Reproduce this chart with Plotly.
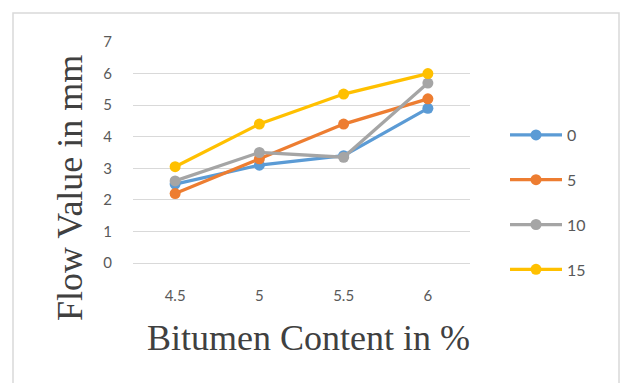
import plotly.graph_objects as go

categories = ["4.5", "5", "5.5", "6"]
series_names = ["0", "5", "10", "15"]
values_0 = [2.5, 3.1, 3.4, 4.9]
values_5 = [2.2, 3.3, 4.4, 5.2]
values_10 = [2.6, 3.5, 3.35, 5.7]
values_15 = [3.05, 4.4, 5.35, 6.0]
y_ticks = [0, 1, 2, 3, 4, 5, 6, 7]

colors = ["#5B9BD5", "#ED7D31", "#A5A5A5", "#FFC000"]
all_values = [values_0, values_5, values_10, values_15]

W, H = 621, 383
L, R, T, B = 133, 151, 42, 120
pw, ph = W - L - R, H - T - B

def px_x(x):
    return (x - L) / pw

def px_y(y):
    return (H - B - y) / ph

fig = go.Figure()
for name, vals, col in zip(series_names, all_values, colors):
    fig.add_trace(go.Scatter(
        x=categories, y=vals, name=name, legendgroup=name,
        mode="lines+markers",
        line=dict(color=col, width=3.25),
        marker=dict(color=col, size=11),
    ))

fig.update_layout(
    width=W, height=H,
    margin=dict(l=L, r=R, t=T, b=B),
    paper_bgcolor="white", plot_bgcolor="white",
    showlegend=True,
    legend=dict(
        x=px_x(505), xanchor="left", y=px_y(118), yanchor="top",
        font=dict(family="Lato", size=16, color="#595959"),
        tracegroupgap=21, itemwidth=52, bgcolor="rgba(0,0,0,0)",
    ),
    xaxis=dict(
        type="category", range=[-0.5, 3.5], showgrid=False, zeroline=False,
        showline=False, ticks="",
        tickfont=dict(family="Lato", size=15, color="#595959"),
        ticklabelstandoff=22,
    ),
    yaxis=dict(
        range=[0, 7], tickvals=y_ticks, showgrid=True, gridcolor="#d9d9d9",
        gridwidth=1, zeroline=True, zerolinecolor="#d9d9d9", zerolinewidth=1,
        showline=False, ticks="",
        tickfont=dict(family="Lato", size=15, color="#595959"),
        ticklabelstandoff=20,
    ),
    annotations=[
        dict(text="Flow Value in mm", xref="paper", yref="paper",
             x=px_x(70), y=px_y(188), xanchor="center", yanchor="middle",
             textangle=-90, showarrow=False,
             font=dict(family="Liberation Serif", size=36, color="#404040")),
        dict(text="Bitumen Content in %", xref="paper", yref="paper",
             x=px_x(308), y=px_y(338), xanchor="center", yanchor="middle",
             showarrow=False,
             font=dict(family="Liberation Serif", size=36, color="#404040")),
    ],
    shapes=[
        dict(type="rect", xref="paper", yref="paper",
             x0=px_x(13), x1=px_x(619), y0=px_y(400), y1=px_y(13),
             line=dict(color="#d9d9d9", width=1.5), layer="below"),
    ],
)

fig.write_html("out.html")
